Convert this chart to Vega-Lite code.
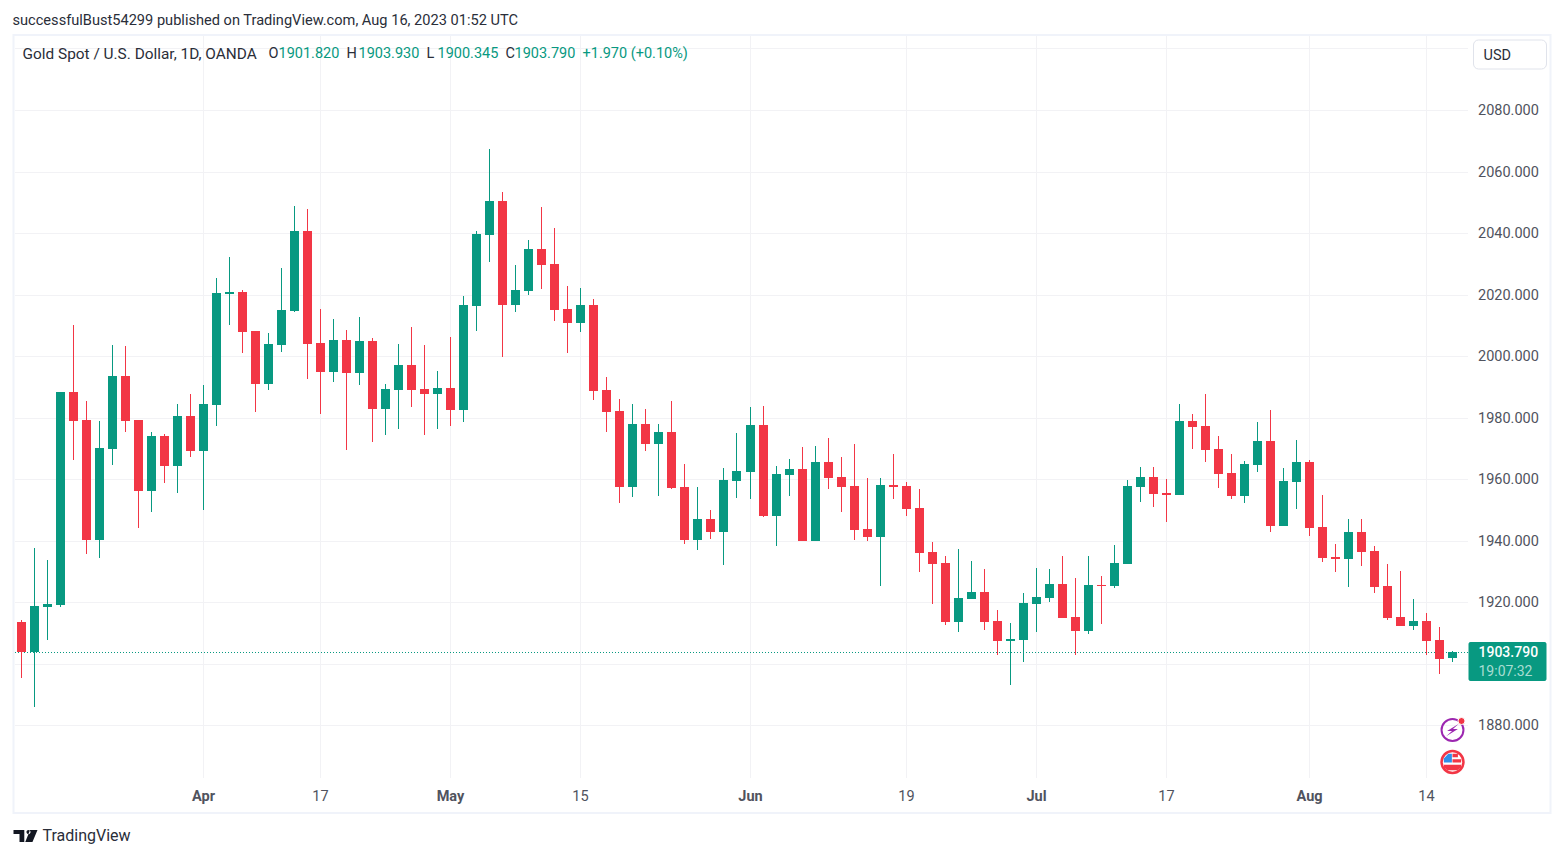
{"$schema":"https://vega.github.io/schema/vega-lite/v6.json","width":1453,"height":743,"autosize":"none","padding":{"left":14.5,"top":35,"right":95.5,"bottom":79},"background":"#ffffff","view":{"stroke":null},"title":{"text":"successfulBust54299 published on TradingView.com, Aug 16, 2023 01:52 UTC","anchor":"start","frame":"group","dx":-2,"offset":6,"font":"Roboto","fontSize":14.6,"fontWeight":"normal","color":"#2a2e39"},"config":{"text":{"font":"Roboto","fontSize":14.5,"align":"left","baseline":"middle"},"axis":{"labelFont":"Roboto"}},"datasets":{"candles":[{"i":0,"o":1913.5,"h":1914.1,"l":1895.3,"c":1903.7},{"i":1,"o":1903.7,"h":1937.5,"l":1885.8,"c":1918.7},{"i":2,"o":1918.4,"h":1933.7,"l":1907.6,"c":1919.3},{"i":3,"o":1919.0,"h":1988.3,"l":1918.4,"c":1988.3},{"i":4,"o":1988.3,"h":2010.1,"l":1966.2,"c":1978.9},{"i":5,"o":1979.2,"h":1985.4,"l":1935.6,"c":1940.2},{"i":6,"o":1940.2,"h":1978.9,"l":1934.3,"c":1970.1},{"i":7,"o":1969.8,"h":2003.6,"l":1964.6,"c":1993.5},{"i":8,"o":1993.5,"h":2003.3,"l":1975.3,"c":1978.9},{"i":9,"o":1979.2,"h":1979.2,"l":1944.0,"c":1956.1},{"i":10,"o":1956.1,"h":1975.3,"l":1949.3,"c":1974.0},{"i":11,"o":1974.0,"h":1974.6,"l":1958.7,"c":1964.2},{"i":12,"o":1964.2,"h":1984.4,"l":1955.4,"c":1980.5},{"i":13,"o":1980.5,"h":1987.6,"l":1967.2,"c":1969.1},{"i":14,"o":1969.1,"h":1990.6,"l":1949.9,"c":1984.4},{"i":15,"o":1984.1,"h":2025.4,"l":1977.2,"c":2020.5},{"i":16,"o":2020.2,"h":2032.2,"l":2010.1,"c":2020.8},{"i":17,"o":2020.8,"h":2021.5,"l":2001.0,"c":2007.8},{"i":18,"o":2008.1,"h":2008.1,"l":1981.8,"c":1990.9},{"i":19,"o":1990.9,"h":2007.5,"l":1989.0,"c":2003.9},{"i":20,"o":2003.6,"h":2028.6,"l":2001.3,"c":2015.0},{"i":21,"o":2014.6,"h":2048.8,"l":2014.3,"c":2040.7},{"i":22,"o":2040.7,"h":2047.8,"l":1992.5,"c":2003.9},{"i":23,"o":2004.2,"h":2015.3,"l":1981.1,"c":1994.8},{"i":24,"o":1994.8,"h":2012.0,"l":1991.5,"c":2005.2},{"i":25,"o":2005.2,"h":2008.4,"l":1969.4,"c":1994.5},{"i":26,"o":1994.5,"h":2012.7,"l":1990.6,"c":2004.9},{"i":27,"o":2004.9,"h":2005.8,"l":1972.0,"c":1982.8},{"i":28,"o":1982.8,"h":1990.9,"l":1974.3,"c":1989.3},{"i":29,"o":1989.0,"h":2003.9,"l":1976.3,"c":1997.1},{"i":30,"o":1997.1,"h":2009.4,"l":1983.4,"c":1989.0},{"i":31,"o":1989.3,"h":2003.6,"l":1974.3,"c":1987.6},{"i":32,"o":1987.6,"h":1995.1,"l":1976.3,"c":1989.6},{"i":33,"o":1989.6,"h":2006.2,"l":1977.2,"c":1982.4},{"i":34,"o":1982.4,"h":2019.5,"l":1978.5,"c":2016.6},{"i":35,"o":2016.3,"h":2040.7,"l":2008.1,"c":2039.7},{"i":36,"o":2039.3,"h":2067.3,"l":2030.6,"c":2050.4},{"i":37,"o":2050.4,"h":2053.3,"l":1999.7,"c":2016.6},{"i":38,"o":2016.6,"h":2029.6,"l":2014.3,"c":2021.5},{"i":39,"o":2021.1,"h":2037.7,"l":2019.8,"c":2034.8},{"i":40,"o":2034.8,"h":2048.5,"l":2021.8,"c":2029.6},{"i":41,"o":2029.9,"h":2041.6,"l":2011.4,"c":2015.0},{"i":42,"o":2015.3,"h":2022.8,"l":2001.0,"c":2010.7},{"i":43,"o":2010.7,"h":2022.1,"l":2007.8,"c":2016.6},{"i":44,"o":2016.6,"h":2018.5,"l":1985.7,"c":1988.6},{"i":45,"o":1989.0,"h":1993.2,"l":1975.3,"c":1981.8},{"i":46,"o":1982.1,"h":1986.0,"l":1952.2,"c":1957.4},{"i":47,"o":1957.4,"h":1984.4,"l":1954.1,"c":1977.9},{"i":48,"o":1977.9,"h":1982.8,"l":1969.1,"c":1971.4},{"i":49,"o":1971.4,"h":1977.9,"l":1954.5,"c":1975.3},{"i":50,"o":1975.3,"h":1985.4,"l":1956.8,"c":1957.1},{"i":51,"o":1957.4,"h":1964.9,"l":1938.9,"c":1940.2},{"i":52,"o":1940.2,"h":1957.4,"l":1936.9,"c":1947.0},{"i":53,"o":1947.0,"h":1949.9,"l":1940.5,"c":1942.8},{"i":54,"o":1942.8,"h":1963.6,"l":1932.0,"c":1959.7},{"i":55,"o":1959.4,"h":1975.0,"l":1953.8,"c":1962.6},{"i":56,"o":1962.3,"h":1983.4,"l":1953.5,"c":1977.6},{"i":57,"o":1977.6,"h":1983.7,"l":1947.6,"c":1947.9},{"i":58,"o":1947.9,"h":1964.2,"l":1938.2,"c":1961.6},{"i":59,"o":1961.3,"h":1966.5,"l":1954.5,"c":1963.2},{"i":60,"o":1963.2,"h":1970.4,"l":1939.8,"c":1939.8},{"i":61,"o":1939.8,"h":1970.7,"l":1939.8,"c":1965.5},{"i":62,"o":1965.5,"h":1973.3,"l":1956.8,"c":1960.3},{"i":63,"o":1960.6,"h":1967.2,"l":1949.3,"c":1957.4},{"i":64,"o":1957.7,"h":1971.4,"l":1940.2,"c":1943.4},{"i":65,"o":1943.7,"h":1960.3,"l":1939.8,"c":1941.1},{"i":66,"o":1941.1,"h":1960.3,"l":1925.2,"c":1958.0},{"i":67,"o":1958.0,"h":1968.1,"l":1953.5,"c":1957.4},{"i":68,"o":1957.7,"h":1959.0,"l":1947.9,"c":1950.2},{"i":69,"o":1950.6,"h":1956.8,"l":1929.8,"c":1935.9},{"i":70,"o":1936.3,"h":1939.5,"l":1919.3,"c":1932.4},{"i":71,"o":1932.7,"h":1935.0,"l":1912.5,"c":1913.5},{"i":72,"o":1913.5,"h":1937.2,"l":1910.2,"c":1921.3},{"i":73,"o":1921.0,"h":1933.3,"l":1921.0,"c":1923.3},{"i":74,"o":1923.3,"h":1930.7,"l":1910.9,"c":1913.5},{"i":75,"o":1913.8,"h":1917.4,"l":1902.8,"c":1907.3},{"i":76,"o":1907.3,"h":1913.2,"l":1893.0,"c":1908.0},{"i":77,"o":1907.6,"h":1922.9,"l":1900.5,"c":1919.7},{"i":78,"o":1919.3,"h":1931.0,"l":1910.2,"c":1921.6},{"i":79,"o":1921.3,"h":1930.7,"l":1920.0,"c":1925.8},{"i":80,"o":1925.8,"h":1935.0,"l":1914.8,"c":1914.8},{"i":81,"o":1915.1,"h":1927.8,"l":1902.8,"c":1910.5},{"i":82,"o":1910.5,"h":1935.0,"l":1909.6,"c":1925.5},{"i":83,"o":1925.5,"h":1928.5,"l":1912.8,"c":1925.2},{"i":84,"o":1925.2,"h":1938.5,"l":1924.6,"c":1932.7},{"i":85,"o":1932.4,"h":1959.7,"l":1932.4,"c":1957.7},{"i":86,"o":1957.4,"h":1963.9,"l":1952.5,"c":1960.6},{"i":87,"o":1960.6,"h":1963.9,"l":1950.9,"c":1955.1},{"i":88,"o":1955.4,"h":1960.0,"l":1946.0,"c":1954.8},{"i":89,"o":1954.8,"h":1984.4,"l":1954.8,"c":1978.9},{"i":90,"o":1978.9,"h":1981.1,"l":1969.8,"c":1976.9},{"i":91,"o":1977.2,"h":1987.6,"l":1965.5,"c":1969.4},{"i":92,"o":1969.8,"h":1974.0,"l":1957.1,"c":1961.6},{"i":93,"o":1962.0,"h":1968.1,"l":1953.5,"c":1954.5},{"i":94,"o":1954.5,"h":1965.8,"l":1952.2,"c":1964.9},{"i":95,"o":1964.6,"h":1978.5,"l":1962.3,"c":1972.4},{"i":96,"o":1972.4,"h":1982.4,"l":1942.8,"c":1944.7},{"i":97,"o":1944.7,"h":1963.6,"l":1944.7,"c":1959.4},{"i":98,"o":1959.0,"h":1972.7,"l":1950.2,"c":1965.5},{"i":99,"o":1965.5,"h":1966.2,"l":1941.5,"c":1944.0},{"i":100,"o":1944.4,"h":1954.8,"l":1933.0,"c":1934.3},{"i":101,"o":1934.6,"h":1938.9,"l":1929.8,"c":1934.0},{"i":102,"o":1934.0,"h":1947.0,"l":1924.9,"c":1942.8},{"i":103,"o":1942.8,"h":1947.0,"l":1931.7,"c":1936.3},{"i":104,"o":1936.6,"h":1938.2,"l":1922.9,"c":1924.9},{"i":105,"o":1925.2,"h":1932.4,"l":1914.2,"c":1914.8},{"i":106,"o":1915.1,"h":1930.1,"l":1912.2,"c":1912.2},{"i":107,"o":1912.2,"h":1921.0,"l":1910.9,"c":1913.8},{"i":108,"o":1913.8,"h":1916.4,"l":1902.8,"c":1907.3},{"i":109,"o":1907.6,"h":1911.9,"l":1896.6,"c":1901.5},{"i":110,"o":1901.82,"h":1903.93,"l":1900.345,"c":1903.79}]},"layer":[{"data":{"name":"candles"},"mark":{"type":"rule","strokeWidth":1},"encoding":{"x":{"field":"i","type":"quantitative","scale":{"domain":[-0.538,111.154],"round":true,"nice":false,"zero":false,"padding":0},"axis":{"title":null,"orient":"bottom","values":[14,23,33,43,56,68,78,88,99,108],"labelExpr":"['Apr','17','May','15','Jun','19','Jul','17','Aug','14'][indexof([14,23,33,43,56,68,78,88,99,108],datum.value)]","labelFontSize":14.5,"labelColor":"#50535e","labelFontWeight":{"condition":{"test":"indexof([14,33,56,78,99],datum.value)>=0","value":"bold"},"value":"normal"},"labelPadding":12,"labelOverlap":false,"labelFlush":false,"ticks":false,"domain":false,"grid":true,"gridColor":"#f2f2f5","gridWidth":1,"translate":0}},"y":{"field":"l","type":"quantitative","scale":{"domain":[1862.77,2104.39],"round":true,"nice":false,"zero":false},"axis":{"title":null,"orient":"right","values":[1880,1900,1903.79,1920,1940,1960,1980,2000,2020,2040,2060,2080,2100],"labelExpr":"datum.value==2100||datum.value==1903.79?'':format(datum.value,'.3f')","labelFontSize":14.5,"labelColor":"#50535e","labelPadding":10,"labelOverlap":false,"labelFlush":false,"ticks":false,"domain":false,"grid":true,"gridColor":{"condition":{"test":"datum.value==1903.79","value":"#089981"},"value":"#f2f2f5"},"gridDash":{"condition":{"test":"datum.value==1903.79","value":[1,2]},"value":[]},"gridWidth":1}},"y2":{"field":"h"},"color":{"condition":{"test":"datum.c>=datum.o","value":"#089981"},"value":"#f23645"}}},{"data":{"name":"candles"},"mark":{"type":"bar","size":9,"orient":"vertical"},"encoding":{"x":{"field":"i","type":"quantitative"},"y":{"field":"o","type":"quantitative"},"y2":{"field":"c"},"color":{"condition":{"test":"datum.c>=datum.o","value":"#089981"},"value":"#f23645"}}},{"data":{"values":[{"k":"frame"}]},"mark":{"type":"rect","fill":null,"stroke":"#f0f3fa","strokeWidth":2},"encoding":{"x":{"datum":-0.62},"x2":{"datum":117.5},"y":{"datum":2104.5},"y2":{"datum":1851.4}}},{"data":{"values":[{"t":"USD"}]},"mark":{"type":"rect","fill":"#ffffff","stroke":"#e0e3eb","strokeWidth":1,"cornerRadius":5},"encoding":{"x":{"datum":111.58},"x2":{"datum":117.19},"y":{"datum":2102.8},"y2":{"datum":2093.3}}},{"data":{"values":[{"t":"USD"}]},"mark":{"type":"text","color":"#2a2e39"},"encoding":{"text":{"field":"t"},"x":{"datum":112.4},"y":{"datum":2097.6}}},{"data":{"values":[{"t":"Gold Spot / U.S. Dollar, 1D, OANDA"}]},"mark":{"type":"text","color":"#2a2e39","fontSize":15.4},"encoding":{"text":{"field":"t"},"x":{"datum":0.05},"y":{"datum":2098.1}}},{"data":{"values":[{"t":"O"}]},"mark":{"type":"text","color":"#2a2e39"},"encoding":{"text":{"field":"t"},"x":{"datum":18.95},"y":{"datum":2098.1}}},{"data":{"values":[{"t":"1901.820"}]},"mark":{"type":"text","color":"#089981"},"encoding":{"text":{"field":"t"},"x":{"datum":19.72},"y":{"datum":2098.1}}},{"data":{"values":[{"t":"H"}]},"mark":{"type":"text","color":"#2a2e39"},"encoding":{"text":{"field":"t"},"x":{"datum":25.02},"y":{"datum":2098.1}}},{"data":{"values":[{"t":"1903.930"}]},"mark":{"type":"text","color":"#089981"},"encoding":{"text":{"field":"t"},"x":{"datum":25.87},"y":{"datum":2098.1}}},{"data":{"values":[{"t":"L"}]},"mark":{"type":"text","color":"#2a2e39"},"encoding":{"text":{"field":"t"},"x":{"datum":31.17},"y":{"datum":2098.1}}},{"data":{"values":[{"t":"1900.345"}]},"mark":{"type":"text","color":"#089981"},"encoding":{"text":{"field":"t"},"x":{"datum":31.94},"y":{"datum":2098.1}}},{"data":{"values":[{"t":"C"}]},"mark":{"type":"text","color":"#2a2e39"},"encoding":{"text":{"field":"t"},"x":{"datum":37.17},"y":{"datum":2098.1}}},{"data":{"values":[{"t":"1903.790"}]},"mark":{"type":"text","color":"#089981"},"encoding":{"text":{"field":"t"},"x":{"datum":37.86},"y":{"datum":2098.1}}},{"data":{"values":[{"t":"+1.970 (+0.10%)"}]},"mark":{"type":"text","color":"#089981"},"encoding":{"text":{"field":"t"},"x":{"datum":43.16},"y":{"datum":2098.1}}},{"data":{"values":[{"t":"last"}]},"mark":{"type":"rect","fill":"#089981","cornerRadius":2},"encoding":{"x":{"datum":111.2},"x2":{"datum":117.19},"y":{"datum":1907},"y2":{"datum":1894.3}}},{"data":{"values":[{"t":"1903.790"}]},"mark":{"type":"text","color":"#ffffff","fontWeight":500,"fontSize":14},"encoding":{"text":{"field":"t"},"x":{"datum":111.97},"y":{"datum":1903.4}}},{"data":{"values":[{"t":"19:07:32"}]},"mark":{"type":"text","color":"#a9ddd3","fontSize":14},"encoding":{"text":{"field":"t"},"x":{"datum":111.97},"y":{"datum":1897.1}}},{"data":{"values":[{"t":"TradingView"}]},"mark":{"type":"text","color":"#2a2e39","fontSize":16},"encoding":{"text":{"field":"t"},"x":{"datum":1.58},"y":{"datum":1843.9}}},{"data":{"values":[{"t":"logo"}]},"mark":{"type":"point","filled":true,"opacity":1,"color":"#131722","size":576,"shape":"M-1 -.5H-.1V.5H-.5V-.17H-1Z M.38 -.5H1L.58 .5H-.02Z M.08 -.33a.17 .17 0 1 0 .34 0a.17 .17 0 1 0 -.34 0Z"},"encoding":{"x":{"datum":0.27},"y":{"datum":1843.9}}},{"data":{"values":[{"t":"alert"}]},"mark":{"type":"point","shape":"circle","filled":false,"opacity":1,"color":"#9c27b0","strokeWidth":2,"size":480},"encoding":{"x":{"datum":110},"y":{"datum":1878.4}}},{"data":{"values":[{"t":"bolt"}]},"mark":{"type":"point","filled":true,"opacity":1,"color":"#9c27b0","size":324,"shape":"M.7 -.7L-.6 .1H-.05L-.7 .7L.6 -.1H.05Z"},"encoding":{"x":{"datum":110},"y":{"datum":1878.4}}},{"data":{"values":[{"t":"dot"}]},"mark":{"type":"point","shape":"circle","filled":true,"opacity":1,"color":"#f23645","stroke":"#ffffff","strokeWidth":1,"size":50},"encoding":{"x":{"datum":110.7},"y":{"datum":1881.2}}},{"data":{"values":[{"t":"flagring"}]},"mark":{"type":"point","shape":"circle","filled":false,"opacity":1,"color":"#f23645","strokeWidth":2.5,"size":480},"encoding":{"x":{"datum":110},"y":{"datum":1868}}},{"data":{"values":[{"t":"stripes"}]},"mark":{"type":"point","filled":true,"opacity":1,"color":"#f23645","size":576,"shape":"M0 -.68H.45V-.4H0Z M0 -.22H.72V.05H0Z M-.72 .22H.72V.45L.4 .68H-.4L-.72 .45Z"},"encoding":{"x":{"datum":110},"y":{"datum":1868}}},{"data":{"values":[{"t":"canton"}]},"mark":{"type":"point","filled":true,"opacity":1,"color":"#2f8fe8","size":576,"shape":"M-.72 .05V-.3L-.35 -.68H-.05V.05Z"},"encoding":{"x":{"datum":110},"y":{"datum":1868}}}]}
